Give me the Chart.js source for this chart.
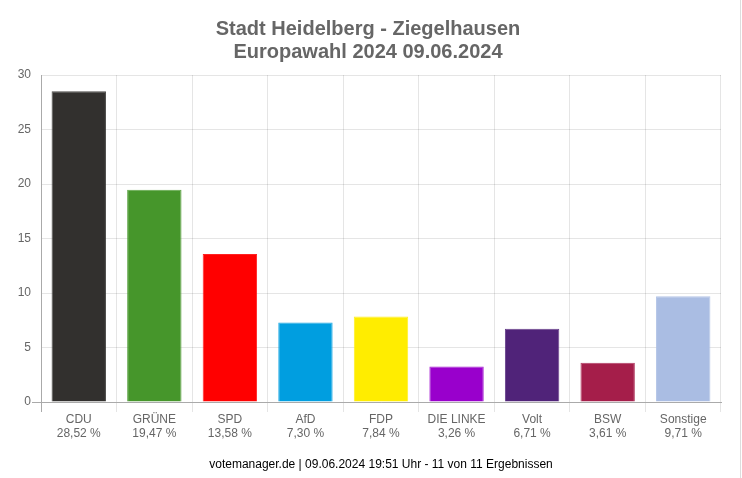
<!DOCTYPE html>
<html lang="de">
<head>
<meta charset="utf-8">
<title>Stadt Heidelberg - Ziegelhausen</title>
<script src="https://cdn.jsdelivr.net/npm/chart.js@4/dist/chart.umd.min.js"></script>
<style>
    html, body { margin: 0; padding: 0; background: #fff; }
    #wrap { position: relative; width: 742px; height: 478px; overflow: hidden; }
    #wrap::after { content: ''; position: absolute; left: 740px; top: 0; width: 1px; height: 100%; background: #ddd; }
</style>
</head>
<body>
<div id="wrap"><canvas id="wahlChart" width="742" height="478"></canvas></div>
<script>
const parties = ['CDU', 'GRÜNE', 'SPD', 'AfD', 'FDP', 'DIE LINKE', 'Volt', 'BSW', 'Sonstige'];
const shares = [28.52, 19.47, 13.58, 7.30, 7.84, 3.26, 6.71, 3.61, 9.71];
const barColors = ['#32302e', '#46962b', '#ff0000', '#009ee0', '#ffed00', '#9900cc', '#502379', '#a51e4a', '#aabde3'];
const titleLines = ['Stadt Heidelberg - Ziegelhausen', 'Europawahl 2024 09.06.2024'];
const footerText = 'votemanager.de | 09.06.2024 19:51 Uhr - 11 von 11 Ergebnissen';

const axisColor = '#aaaaaa';
const fontFamily = '"Liberation Sans", Arial, sans-serif';

Chart.defaults.font.family = fontFamily;
Chart.defaults.font.size = 12;
Chart.defaults.color = '#666';

const labels = parties.map((name, i) => [name, shares[i].toFixed(2).replace('.', ',') + ' %']);

new Chart(document.getElementById('wahlChart').getContext('2d'), {
    type: 'bar',
    data: {
        labels: labels,
        datasets: [{
            data: shares,
            backgroundColor: barColors,
            borderColor: barColors.map(c => c + 'dd'),
            borderWidth: 1
        }]
    },
    options: {
        responsive: false,
        animation: false,
        layout: { padding: { left: 15, right: 21, top: 18, bottom: 0 } },
        scales: {
            x: {
                afterFit: scale => { scale.height = 76; },
                border: { color: axisColor },
                grid: {
                    color: 'rgba(0,0,0,0.1)',
                    tickColor: ctx => ctx.index === 0 ? axisColor : 'rgba(0,0,0,0.1)',
                    tickLength: 10
                },
                ticks: {
                    maxRotation: 0,
                    autoSkip: false,
                    padding: 0
                },
                title: {
                    display: true,
                    text: footerText,
                    color: '#000',
                    font: { size: 12 },
                    padding: { top: 9, bottom: 6 }
                }
            },
            y: {
                min: 0,
                max: 30,
                afterFit: scale => { scale.width = 26; },
                border: { color: axisColor },
                grid: {
                    color: ctx => ctx.tick.value === 0 ? axisColor : 'rgba(0,0,0,0.1)',
                    tickColor: ctx => ctx.tick.value === 0 ? axisColor : 'rgba(0,0,0,0)',
                    tickLength: 9
                },
                ticks: {
                    stepSize: 5,
                    padding: 1
                }
            }
        },
        plugins: {
            legend: { display: false },
            tooltip: { enabled: false },
            title: {
                display: true,
                text: titleLines,
                color: '#666',
                font: { size: 20, weight: 'bold', lineHeight: 1.15 },
                padding: { top: 0, bottom: 11 }
            }
        }
    }
});
</script>
</body>
</html>
